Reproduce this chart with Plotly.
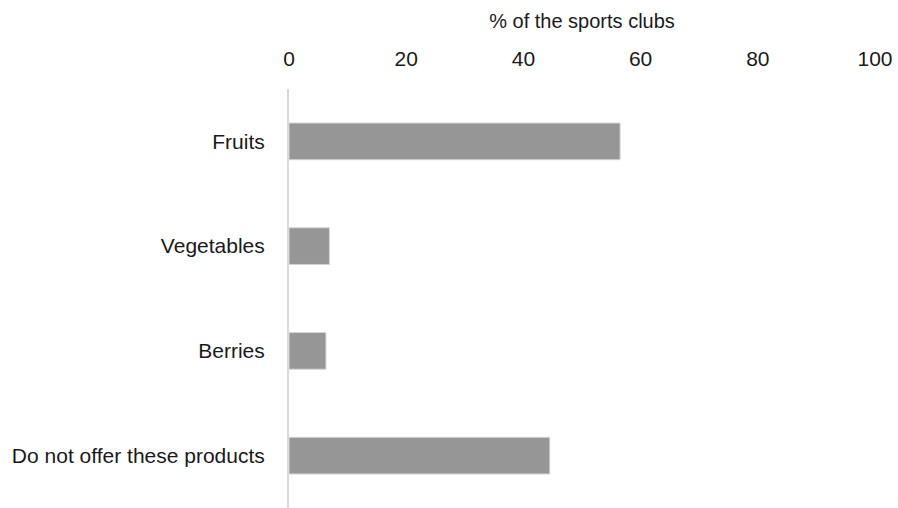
import plotly.graph_objects as go

categories = ["Fruits", "Vegetables", "Berries", "Do not offer these products"]
values = [56.5, 6.9, 6.3, 44.5]
x_ticks = [0, 20, 40, 60, 80, 100]
x_title = "% of the sports clubs"

fig = go.Figure(go.Bar(
    x=values, y=categories, orientation="h",
    marker=dict(color="#969696", line=dict(color="#d4d4d4", width=1)),
    hoverinfo="x+y",
))

fig.update_layout(
    width=898, height=508,
    margin=dict(l=289, r=23, t=89, b=0),
    paper_bgcolor="white", plot_bgcolor="white",
    font=dict(family="Liberation Sans, Arial, sans-serif", size=21, color="#1a1a1a"),
    bargap=0.65,
    showlegend=False,
)
fig.update_xaxes(
    side="top", range=[0, 100], tickvals=x_ticks,
    showgrid=False, zeroline=False, showline=False,
    ticks="outside", ticklen=14, tickcolor="white",
    title=dict(text=x_title, font=dict(size=20), standoff=12),
)
fig.update_yaxes(
    categoryorder="array", categoryarray=categories, autorange=False,
    range=[3.5, -0.5],
    showgrid=False, zeroline=False,
    showline=True, linecolor="#d9d9d9", linewidth=2,
    ticks="outside", ticklen=18, tickcolor="white",
)

fig.write_html(
    "out.html",
    config={"displayModeBar": False},
    post_script="document.body.style.margin='0';document.body.style.overflow='hidden';",
)
